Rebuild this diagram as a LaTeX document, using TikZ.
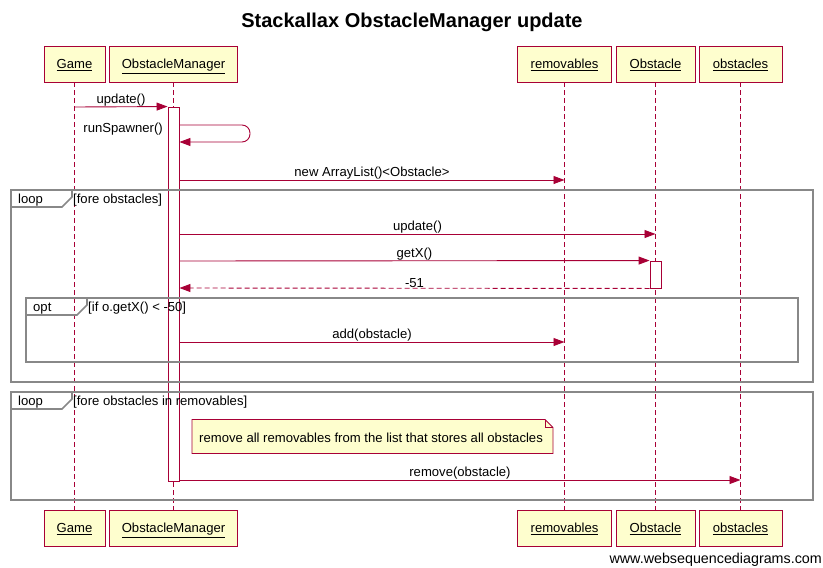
\documentclass[tikz,border=0pt]{standalone}
\usepackage{fontspec}
\setmainfont{Liberation Sans}
\usetikzlibrary{arrows.meta}
\definecolor{wsdred}{HTML}{A80036}
\definecolor{wsdfill}{HTML}{FEFECE}
\definecolor{wsdgray}{HTML}{888888}
\newcommand{\lbl}{\fontsize{13.1}{15}\selectfont}
\begin{document}
\begin{tikzpicture}[x=1pt,y=-1pt,
  actorbox/.style={draw=wsdred, fill=wsdfill, line width=0.9pt, minimum height=36pt, inner sep=0pt, font=\lbl, text height=9.3pt, text depth=0pt},
  lifeline/.style={draw=wsdred, line width=0.9pt, dash pattern=on 5pt off 3pt},
  actbar/.style={draw=wsdred, fill=white, line width=0.9pt, inner sep=0pt, minimum width=11pt},
  msg/.style={draw=wsdred, line width=0.9pt, -{Triangle[length=11pt,width=8pt]}},
  retmsg/.style={msg, dash pattern=on 5pt off 3pt},
  mlabel/.style={font=\lbl, inner sep=1pt, above=-1pt},
  frame/.style={draw=wsdgray, line width=1.6pt},
  ftext/.style={font=\lbl, anchor=west, inner sep=0pt},
  note/.style={draw=wsdred, fill=wsdfill, line width=0.9pt}
]
\useasboundingbox (0,0) rectangle (823,568);

% title
\node[font=\bfseries\fontsize{20}{22}\selectfont] (title) at (412,22) {Stackallax ObstacleManager update};

% actor boxes
\node[actorbox, minimum width=61pt] (gT) at (74.5,64) {\underline{Game}};
\node[actorbox, minimum width=128pt] (omT) at (173.5,64) {\underline{ObstacleManager}};
\node[actorbox, minimum width=94pt] (rmT) at (564.5,64) {\underline{removables}};
\node[actorbox, minimum width=79pt] (obT) at (655.5,64) {\underline{Obstacle}};
\node[actorbox, minimum width=83pt] (osT) at (740.5,64) {\underline{obstacles}};

\node[actorbox, minimum width=61pt] (gB) at (74.5,528) {\underline{Game}};
\node[actorbox, minimum width=128pt] (omB) at (173.5,528) {\underline{ObstacleManager}};
\node[actorbox, minimum width=94pt] (rmB) at (564.5,528) {\underline{removables}};
\node[actorbox, minimum width=79pt] (obB) at (655.5,528) {\underline{Obstacle}};
\node[actorbox, minimum width=83pt] (osB) at (740.5,528) {\underline{obstacles}};

% lifelines
\draw[lifeline] (gT.south) -- (gB.north);
\draw[lifeline] (omT.south) -- (omB.north);
\draw[lifeline] (rmT.south) -- (rmB.north);
\draw[lifeline] (obT.south) -- (obB.north);
\draw[lifeline] (osT.south) -- (osB.north);

% activations
\node[actbar, minimum height=374pt] (omact) at (173.5,294) {};
\node[actbar, minimum height=27pt] (obact) at (655.5,274.5) {};

% frames
\draw[frame] (11,190) rectangle (813,382);
\draw[frame] (11,207) -- (62,207) -- (72,197) -- (72,190);
\node[ftext] (l1) at (18,200.5) {loop};
\node[ftext] (c1) at (73,200.5) {[fore obstacles]};

\draw[frame] (26,298) rectangle (798,362);
\draw[frame] (26,315) -- (77,315) -- (87,305) -- (87,298);
\node[ftext] (l2) at (33,308.5) {opt};
\node[ftext] (c2) at (88,308.5) {[if o.getX() < -50]};

\draw[frame] (11,392) rectangle (813,500);
\draw[frame] (11,409) -- (62,409) -- (72,399) -- (72,392);
\node[ftext] (l3) at (18,402.5) {loop};
\node[ftext] (c3) at (73,402.5) {[fore obstacles in removables]};

% coordinates for message rows
\coordinate (y1) at (0,107);
\coordinate (y2a) at (0,125);
\coordinate (y2b) at (0,142);
\coordinate (y3) at (0,180);
\coordinate (y4) at (0,234);
\coordinate (y5) at (0,261);
\coordinate (y6) at (0,288);
\coordinate (y7) at (0,342);
\coordinate (y8) at (0,480);

% messages
\draw[msg] (gT |- y1) -- node[mlabel] {update()} (omact.north west);
\draw[msg, rounded corners=8pt] (omact.east |- y2a) -- (250,125) -- (250,142) -- (omact.east |- y2b);
\node[font=\lbl, anchor=east, inner sep=0pt] (rs) at (163,129.5) {runSpawner()};
\draw[msg] (omact.east |- y3) -- node[mlabel] {new ArrayList()<Obstacle>} (rmT |- y3);
\draw[msg] (omact.east |- y4) -- node[mlabel] {update()} (obT |- y4);
\draw[msg] (omact.east |- y5) -- node[mlabel] {getX()} (obact.north west);
\draw[retmsg] (obact.south west) -- node[mlabel] {-51} (omact.east |- y6);
\draw[msg] (omact.east |- y7) -- node[mlabel] {add(obstacle)} (rmT |- y7);

% note
\draw[note] (192,419.5) -- (545,419.5) -- (553,427.5) -- (553,453.5) -- (192,453.5) -- cycle;
\draw[draw=wsdred, line width=0.9pt] (545,419.5) -- (545,427.5) -- (553,427.5);
\node[font=\lbl, anchor=west, inner sep=0pt] (nt) at (199,438) {remove all removables from the list that stores all obstacles};

\draw[msg] (omact.east |- y8) -- node[mlabel] {remove(obstacle)} (osT |- y8);

% footer
\node[font=\fontsize{14.3}{16}\selectfont, anchor=east, inner sep=0pt] (ft) at (822,560) {www.websequencediagrams.com};
\end{tikzpicture}
\end{document}
